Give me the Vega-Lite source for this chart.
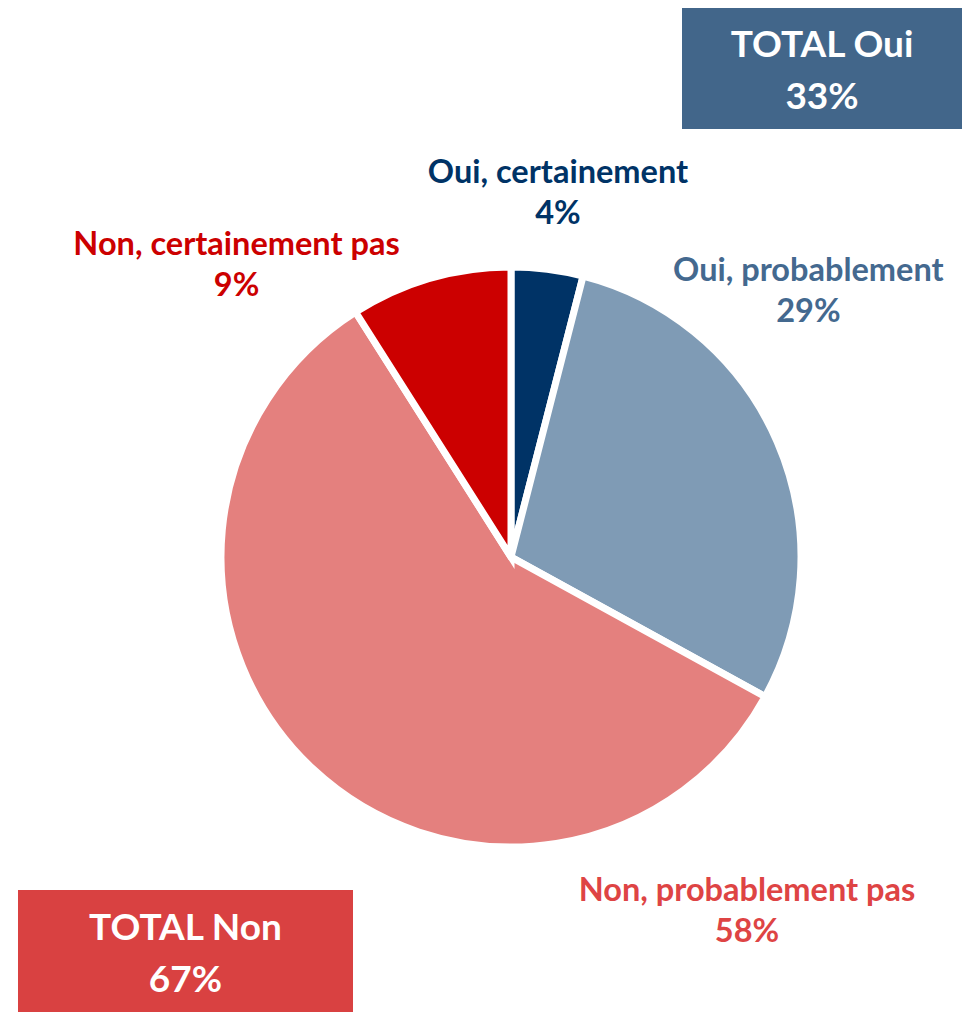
{
  "$schema": "https://vega.github.io/schema/vega-lite/v6.json",
  "width": 965,
  "height": 1014,
  "autosize": {"type": "none"},
  "padding": 0,
  "background": "white",
  "config": {"view": {"stroke": null}, "text": {"font": "Lato", "fontWeight": "bold"}},
  "data": {"values": [
    {"category": "Oui, certainement", "group": "Oui", "value": 4, "order": 1},
    {"category": "Oui, probablement", "group": "Oui", "value": 29, "order": 2},
    {"category": "Non, probablement pas", "group": "Non", "value": 58, "order": 3},
    {"category": "Non, certainement pas", "group": "Non", "value": 9, "order": 4}
  ]},
  "transform": [
    {"calculate": "datum.category + '\\n' + datum.value + '%'", "as": "label"}
  ],
  "layer": [
    {
      "mark": {"type": "arc", "outerRadius": 290, "stroke": "white", "strokeWidth": 7, "xOffset": 28.5, "yOffset": 50},
      "encoding": {
        "theta": {"field": "value", "type": "quantitative", "stack": true},
        "order": {"field": "order", "type": "quantitative"},
        "color": {"field": "category", "type": "nominal", "legend": null,
          "scale": {"domain": ["Oui, certainement", "Oui, probablement", "Non, probablement pas", "Non, certainement pas"],
                    "range": ["#003366", "#7f9bb5", "#e4807e", "#cc0000"]}}
      }
    },
    {
      "mark": {"type": "text", "radius": 367, "dx": 1, "dy": -20, "fontSize": 32.5, "lineHeight": 41, "lineBreak": "\n", "align": "center", "baseline": "middle", "color": "#003366", "xOffset": 28.5, "yOffset": 50},
      "encoding": {
        "theta": {"field": "value", "type": "quantitative", "stack": true},
        "order": {"field": "order", "type": "quantitative"},
        "text": {"condition": {"test": "datum.category === 'Oui, certainement'", "field": "label", "type": "nominal"}, "value": ""}
      }
    },
    {
      "mark": {"type": "text", "radius": 324, "dx": 0, "dy": -157, "fontSize": 32.5, "lineHeight": 41, "lineBreak": "\n", "align": "center", "baseline": "middle", "color": "#44698f", "xOffset": 28.5, "yOffset": 50},
      "encoding": {
        "theta": {"field": "value", "type": "quantitative", "stack": true},
        "order": {"field": "order", "type": "quantitative"},
        "text": {"condition": {"test": "datum.category === 'Oui, probablement'", "field": "label", "type": "nominal"}, "value": ""}
      }
    },
    {
      "mark": {"type": "text", "radius": 485, "dx": 568, "dy": -20, "fontSize": 32.5, "lineHeight": 41, "lineBreak": "\n", "align": "center", "baseline": "middle", "color": "#de4444", "xOffset": 28.5, "yOffset": 50},
      "encoding": {
        "theta": {"field": "value", "type": "quantitative", "stack": true},
        "order": {"field": "order", "type": "quantitative"},
        "text": {"condition": {"test": "datum.category === 'Non, probablement pas'", "field": "label", "type": "nominal"}, "value": ""}
      }
    },
    {
      "mark": {"type": "text", "radius": 304.6, "dx": -189.5, "dy": -19, "fontSize": 32.5, "lineHeight": 41, "lineBreak": "\n", "align": "center", "baseline": "middle", "color": "#cc0000", "xOffset": 28.5, "yOffset": 50},
      "encoding": {
        "theta": {"field": "value", "type": "quantitative", "stack": true},
        "order": {"field": "order", "type": "quantitative"},
        "text": {"condition": {"test": "datum.category === 'Non, certainement pas'", "field": "label", "type": "nominal"}, "value": ""}
      }
    },
    {
      "transform": [
        {"aggregate": [{"op": "sum", "field": "value", "as": "total"}], "groupby": ["group"]},
        {"calculate": "'TOTAL ' + datum.group + '\\n' + datum.total + '%'", "as": "boxlabel"}
      ],
      "layer": [
        {
          "mark": {"type": "point", "filled": true, "size": 10000, "opacity": 1, "strokeWidth": 0},
          "encoding": {
            "x": {"field": "group", "type": "nominal", "axis": null, "scale": {"type": "point", "domain": ["Non", "Oui"], "padding": 0.25805, "align": 0.56469}},
            "y": {"field": "group", "type": "nominal", "axis": null, "scale": {"type": "point", "domain": ["Oui", "Non"], "padding": 0.074504, "align": 0.52091}},
            "shape": {"field": "group", "type": "nominal", "legend": null,
              "scale": {"domain": ["Non", "Oui"], "range": ["M-3.35,-1.22H3.35V1.22H-3.35Z", "M-2.8,-1.21H2.8V1.21H-2.8Z"]}},
            "fill": {"field": "group", "type": "nominal", "legend": null,
              "scale": {"domain": ["Non", "Oui"], "range": ["#d94141", "#42668a"]}}
          }
        },
        {
          "mark": {"type": "text", "fontSize": 37, "lineHeight": 52, "lineBreak": "\n", "align": "center", "baseline": "middle", "dy": -22, "color": "white"},
          "encoding": {
            "x": {"field": "group", "type": "nominal"},
            "y": {"field": "group", "type": "nominal"},
            "text": {"field": "boxlabel", "type": "nominal"}
          }
        }
      ]
    }
  ]
}
